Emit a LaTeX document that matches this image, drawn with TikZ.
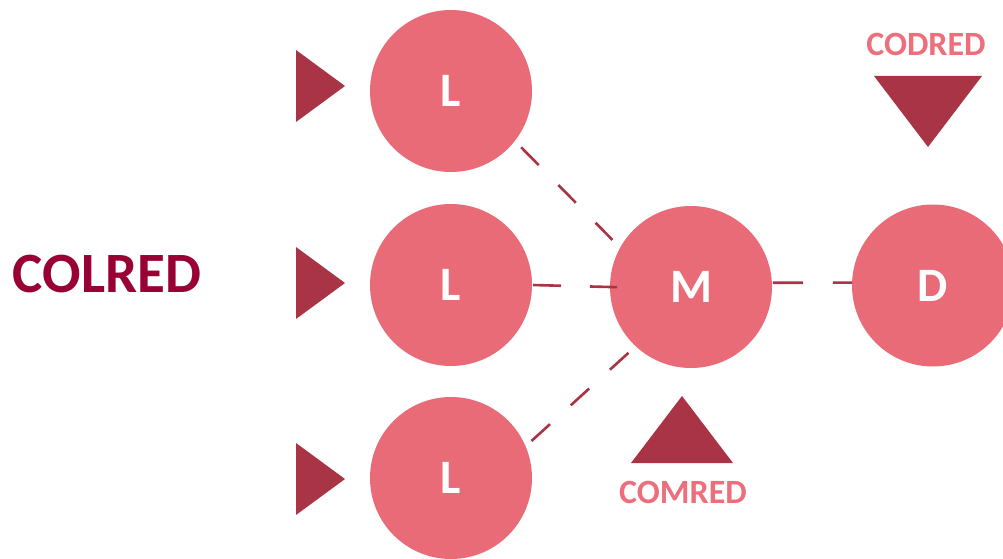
\documentclass[tikz,border=0pt]{standalone}
\usepackage{fontspec}
\setmainfont{Carlito}
\definecolor{circ}{HTML}{EA6B78}
\definecolor{tri}{HTML}{A83445}
\definecolor{lab}{HTML}{990033}
\definecolor{sublab}{HTML}{EC6F7B}
\tikzset{
  blob/.style={circle,fill=circ,draw=none,minimum size=162pt,inner sep=0pt,outer sep=0pt,text=white,font=\fontsize{48}{48}\selectfont\bfseries},
  link/.style={draw=tri,line width=2.6pt},
  bigtext/.style={inner sep=0pt,text=lab,font=\fontsize{57}{57}\selectfont\bfseries},
  smalltext/.style={inner sep=0pt,text=sublab,font=\fontsize{34}{34}\selectfont\bfseries},
  marker/.style={fill=tri,draw=none}
}
\begin{document}
\begin{tikzpicture}[x=1pt,y=-1pt]
\useasboundingbox (0,0) rectangle (1003,559);
\clip (0,0) rectangle (1003,559);
\fill[white] (0,0) rectangle (1003,559);
% circles
\node[blob] (L1) at (451,91) {L};
\node[blob] (L2) at (451,285) {L};
\node[blob] (L3) at (451,478) {L};
\node[blob] (M) at (691,287) {M};
\node[blob] (D) at (933,285.5) {D};
% connectors
\draw[link,dash pattern=on 25pt off 28pt,shorten <=9pt,shorten >=11pt] (L1.-38) -- (M.151.5);
\draw[link,dash pattern=on 28pt off 29pt,shorten <=1pt,shorten >=-7pt] (L2.east) -- (M.west);
\draw[link,dash pattern=on 25pt off 28pt,shorten <=8pt,shorten >=8pt] (L3.23) -- (M.227);
\draw[link,dash pattern=on 30pt off 30pt,shorten <=1pt] (M.3) -- (D.178);
% markers
\fill[marker] (296,50) -- (345,86) -- (296,122) -- cycle;
\fill[marker] (296,247) -- (345,283) -- (296,319) -- cycle;
\fill[marker] (296,443) -- (345,479) -- (296,515) -- cycle;
\fill[marker] (631,463) -- (682,396) -- (733,463) -- cycle;
\fill[marker] (874,76) -- (982,76) -- (928,147) -- cycle;
% labels
\node[bigtext] (colred) at (107,274) {COLRED};
\node[smalltext] (comred) at (683,492) {COMRED};
\node[smalltext] (codred) at (926,44) {CODRED};
\end{tikzpicture}
\end{document}
